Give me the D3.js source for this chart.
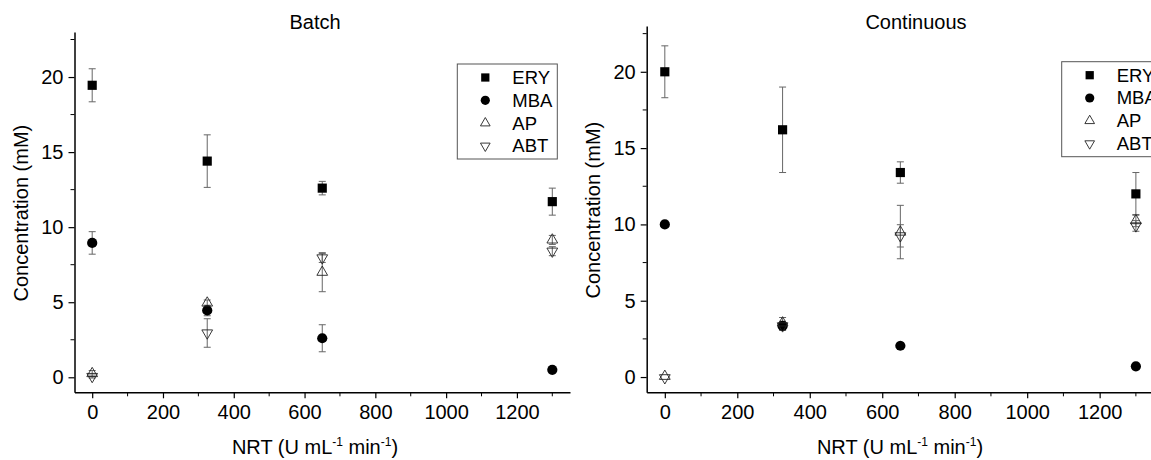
<!DOCTYPE html>
<html>
<head>
<meta charset="utf-8">
<script src="https://cdn.jsdelivr.net/npm/d3@7"></script>
<style>
  body { margin: 0; background: #fff; }
  svg { display: block; font-family: "Liberation Sans", Arial, sans-serif; }
</style>
</head>
<body>
<svg id="chart" width="1151" height="460"></svg>
<script>
// ── Data ──────────────────────────────────────────────────────────────────
const nrt = [0, 325, 650, 1300];
const seriesNames = ["ERY", "MBA", "AP", "ABT"];

const batchERY = [19.45, 14.4, 12.6, 11.7];
const batchERYerr = [1.1, 1.75, 0.45, 0.9];
const batchMBA = [8.95, 4.45, 2.6, 0.5];
const batchMBAerr = [0.75, 0.35, 0.9, 0];
const batchAP = [0.25, 4.95, 7.0, 9.15];
const batchAPerr = [0.2, 0.2, 1.3, 0.3];
const batchABT = [0.05, 2.95, 7.95, 8.4];
const batchABTerr = [0.1, 0.95, 0.3, 0.3];

const contERY = [20.0, 16.2, 13.4, 12.0];
const contERYerr = [1.7, 2.8, 0.7, 1.4];
const contMBA = [10.0, 3.35, 2.05, 0.7];
const contMBAerr = [0, 0.2, 0, 0];
const contAP = [0.05, 3.55, 9.5, 10.25];
const contAPerr = [0, 0.35, 1.75, 0.4];
const contABT = [-0.05, 3.35, 9.25, 9.9];
const contABTerr = [0, 0.3, 0.73, 0.35];

const xTicks = [0, 200, 400, 600, 800, 1000, 1200];
const xMinor = [100, 300, 500, 700, 900, 1100, 1300];
const yTicks = [0, 5, 10, 15, 20];
const yMinor = [2.5, 7.5, 12.5, 17.5, 22.5];

const svg = d3.select("#chart");
const ERR_COLOR = "#666";
const FONT = 20;

// ── Markers ───────────────────────────────────────────────────────────────
function marker(g, name, x, y, legend) {
  const k = legend ? 0.9 : 1;
  if (name === "ERY") {
    g.append("path").attr("d", d3.symbol(d3.symbolSquare, 84 * k * k)())
      .attr("transform", `translate(${x},${y})`).attr("fill", "#000");
  } else if (name === "MBA") {
    g.append("path").attr("d", d3.symbol(d3.symbolCircle, 82 * k * k)())
      .attr("transform", `translate(${x},${y})`).attr("fill", "#000");
  } else {
    const rot = name === "ABT" ? 180 : 0;
    g.append("path").attr("d", d3.symbol(d3.symbolTriangle, 50 * k * k)())
      .attr("transform", `translate(${x},${y}) rotate(${rot})`)
      .attr("fill", "none").attr("stroke", "#222").attr("stroke-width", 0.9);
  }
}

// ── Panel ─────────────────────────────────────────────────────────────────
function drawPanel(opt) {
  const x = d3.scaleLinear().domain([-50, 1350]).range([opt.left, opt.right]);
  const y = d3.scaleLinear().domain([-1, 23]).range([392.3, opt.top]);
  const g = svg.append("g");

  // axes
  const xAxis = g.append("g").attr("transform", "translate(0,392.3)");
  xAxis.call(d3.axisBottom(x).tickValues(xTicks).tickFormat(d3.format("d"))
    .tickSize(6).tickSizeOuter(0).tickPadding(7));
  xAxis.append("g").selectAll("line").data(xMinor).join("line")
    .attr("x1", (d) => x(d)).attr("x2", (d) => x(d)).attr("y1", 0).attr("y2", 4)
    .attr("stroke", "#000");

  const yAxis = g.append("g").attr("transform", `translate(${opt.left},0)`);
  yAxis.call(d3.axisLeft(y).tickValues(yTicks).tickSize(6).tickSizeOuter(0).tickPadding(5));
  yAxis.append("g").selectAll("line").data(yMinor).join("line")
    .attr("y1", (d) => y(d)).attr("y2", (d) => y(d)).attr("x1", 0).attr("x2", -4)
    .attr("stroke", "#000");

  [xAxis, yAxis].forEach((a) => {
    a.attr("font-size", FONT).attr("font-family", "'Liberation Sans', Arial, sans-serif");
    a.select(".domain").attr("stroke", "#000").attr("stroke-width", 1.5);
    a.selectAll(".tick line").attr("stroke", "#000").attr("stroke-width", 1.2);
    a.selectAll("text").attr("fill", "#000");
  });

  // titles and labels
  g.append("text").attr("x", opt.titleX).attr("y", 29).attr("text-anchor", "middle")
    .attr("font-size", FONT).text(opt.title);

  g.append("text")
    .attr("transform", `translate(${opt.left - 46.5},${(392.3 + opt.top) / 2 + 1}) rotate(-90)`)
    .attr("text-anchor", "middle").attr("font-size", FONT).text("Concentration (mM)");

  const xl = g.append("text").attr("x", opt.xLabelX).attr("y", 454)
    .attr("text-anchor", "middle").attr("font-size", FONT);
  xl.append("tspan").text("NRT (U mL");
  xl.append("tspan").attr("dy", -8).attr("font-size", 12).text("-1");
  xl.append("tspan").attr("dy", 8).text(" min");
  xl.append("tspan").attr("dy", -8).attr("font-size", 12).text("-1");
  xl.append("tspan").attr("dy", 8).text(")");

  // error bars + markers
  const pts = g.append("g");
  opt.series.forEach((s) => {
    s.vals.forEach((v, i) => {
      const e = s.err[i];
      if (e > 0) {
        const cx = x(nrt[i]);
        pts.append("line").attr("x1", cx).attr("x2", cx)
          .attr("y1", y(v - e)).attr("y2", y(v + e))
          .attr("stroke", ERR_COLOR).attr("stroke-width", 1);
        [v - e, v + e].forEach((c) => {
          pts.append("line").attr("x1", cx - 3.5).attr("x2", cx + 3.5)
            .attr("y1", y(c)).attr("y2", y(c))
            .attr("stroke", ERR_COLOR).attr("stroke-width", 1);
        });
      }
    });
  });
  opt.series.forEach((s) => {
    s.vals.forEach((v, i) => marker(pts, s.name, x(nrt[i]), y(v), false));
  });

  // legend
  const lg = g.append("g").attr("transform", `translate(${opt.legendX},${opt.legendY})`);
  lg.append("rect").attr("width", 100).attr("height", 95)
    .attr("fill", "#fff").attr("stroke", "#555").attr("stroke-width", 1);
  seriesNames.forEach((n, i) => {
    const yy = 13.5 + i * 22.8;
    marker(lg, n, 28, yy, true);
    lg.append("text").attr("x", 55).attr("y", yy + 6.5).attr("font-size", 18.5).text(n);
  });
}

drawPanel({
  left: 74.5, right: 570, top: 32, title: "Batch", titleX: 315, xLabelX: 315,
  legendX: 457.3, legendY: 64,
  series: [
    { name: "ERY", vals: batchERY, err: batchERYerr },
    { name: "MBA", vals: batchMBA, err: batchMBAerr },
    { name: "AP", vals: batchAP, err: batchAPerr },
    { name: "ABT", vals: batchABT, err: batchABTerr },
  ],
});

drawPanel({
  left: 646.7, right: 1154, top: 26, title: "Continuous", titleX: 916, xLabelX: 900,
  legendX: 1061.7, legendY: 61.7,
  series: [
    { name: "ERY", vals: contERY, err: contERYerr },
    { name: "MBA", vals: contMBA, err: contMBAerr },
    { name: "AP", vals: contAP, err: contAPerr },
    { name: "ABT", vals: contABT, err: contABTerr },
  ],
});
</script>
</body>
</html>
